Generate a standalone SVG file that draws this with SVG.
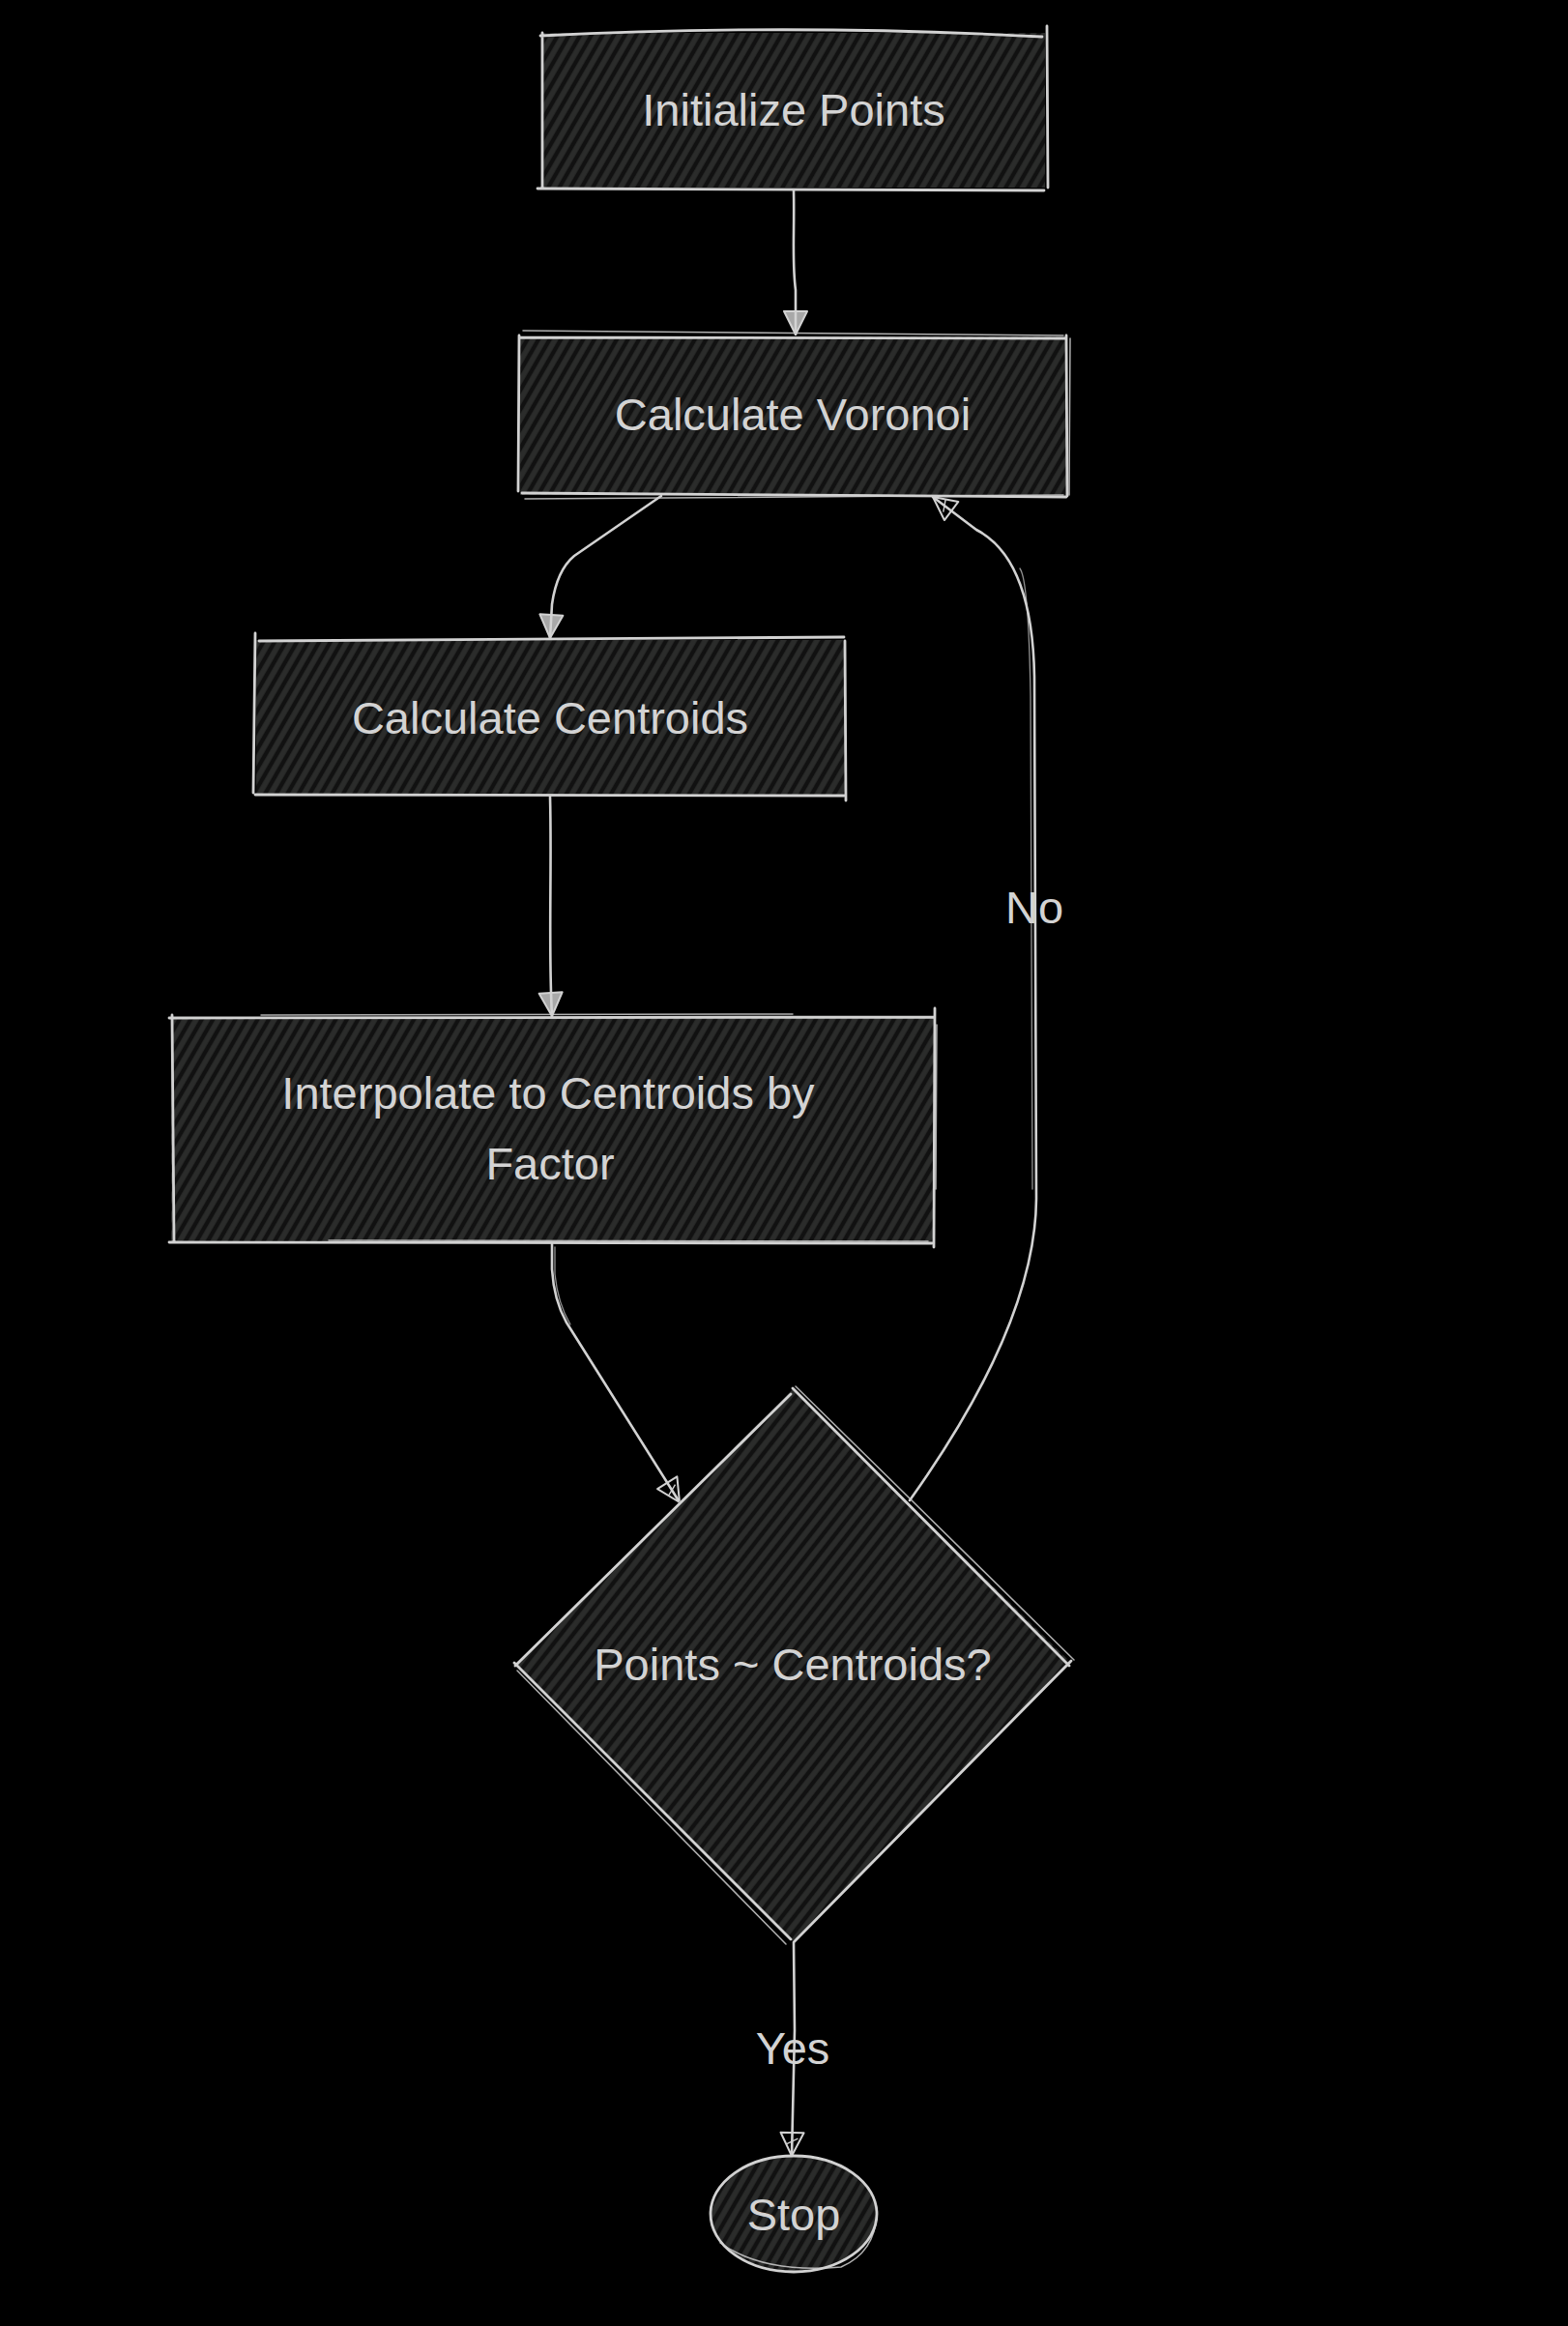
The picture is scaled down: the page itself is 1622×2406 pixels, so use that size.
<svg xmlns="http://www.w3.org/2000/svg" width="1622" height="2406" viewBox="0 0 1622 2406">
<style>
.bg{fill:#000}
.fillh{fill:url(#hach)}
.fillhd{fill:url(#hachd)}
.bd{fill:none;stroke:#d2d2d2;stroke-width:2.8;stroke-linecap:round;stroke-linejoin:round}
.bd2{fill:none;stroke:#cfcfcf;stroke-width:1.5;stroke-linecap:round;opacity:0.85}
.edge{fill:none;stroke:#d2d2d2;stroke-width:2.6;stroke-linecap:round;stroke-linejoin:round}
.edge2{fill:none;stroke:#cfcfcf;stroke-width:1.3;stroke-linecap:round;opacity:0.7}
.lbl{font-family:"Liberation Sans",Arial,sans-serif;font-size:47px;fill:#d3d3d3;text-anchor:middle}
</style>
<defs>
<pattern id="hach" patternUnits="userSpaceOnUse" width="10" height="10" patternTransform="rotate(30)">
<rect width="10" height="10" fill="#111111"/>
<line x1="3" y1="0" x2="3" y2="10" stroke="#2b2c2b" stroke-width="5.5"/>
</pattern>
<pattern id="hachd" patternUnits="userSpaceOnUse" width="10" height="10" patternTransform="rotate(38)">
<rect width="10" height="10" fill="#111111"/>
<line x1="3" y1="0" x2="3" y2="10" stroke="#2b2c2b" stroke-width="5.5"/>
</pattern>
<marker id="arr" markerUnits="userSpaceOnUse" markerWidth="30" markerHeight="30" viewBox="0 0 30 30" refX="26" refY="15" orient="auto">
<path d="M2,3 L26,15 L2,27 Z" fill="#d2d2d2" fill-opacity="0.8" stroke="#d2d2d2" stroke-width="2" stroke-linejoin="round"/>
</marker>
<marker id="arrh" markerUnits="userSpaceOnUse" markerWidth="30" markerHeight="30" viewBox="0 0 30 30" refX="26" refY="15" orient="auto">
<path d="M2,3 L26,15 L2,27 Z" fill="none" stroke="#d2d2d2" stroke-width="2" stroke-linejoin="round"/>
<path d="M8,9 L14,21" stroke="#d2d2d2" stroke-width="1.4" fill="none"/>
</marker>
</defs>
<rect class="bg" x="0" y="0" width="1622" height="2406"/>

<g id="connectors">
<g id="e-init-voronoi">
<path class="edge" d="M821,197 C822,240 819,270 823,300 L823,346" marker-end="url(#arr)"/>
</g>
<g id="e-voronoi-centroids">
<path class="edge" d="M684,513 L594,575 Q576,590 571,625 L569,660" marker-end="url(#arr)"/>
</g>
<g id="e-centroids-interp">
<path class="edge" d="M569,824 C571,900 567,980 571,1051" marker-end="url(#arr)"/>
</g>
<g id="e-interp-decision">
<path class="edge" d="M571,1287 L571,1313 Q573,1345 586,1368 L703,1554" marker-end="url(#arrh)"/>
<path class="edge2" d="M574,1290 L574,1318 Q577,1348 590,1370"/>
</g>
<g id="e-decision-voronoi">
<path class="edge" d="M941,1552 Q1071,1370 1072,1240 L1070,700 Q1068,578 1010,548 L965,514" marker-end="url(#arrh)"/>
<path class="edge2" d="M1068,1230 L1066,720 Q1064,600 1055,588"/>
<text class="lbl" x="1070" y="955">No</text>
</g>
<g id="e-decision-stop">
<path class="edge" d="M821,2009 L822,2100 L819,2230" marker-end="url(#arrh)"/>
<text class="lbl" x="820" y="2135">Yes</text>
</g>
</g>

<g id="n-init">
<rect class="fillh" x="561" y="34" width="520" height="160"/>
<path class="bd" d="M559,37 Q820,24 1078,38 M561,34 L561,195 M556,195 L1080,197 M1083,27 L1084,194"/>
<text class="lbl" x="821" y="130">Initialize Points</text>
</g>

<g id="n-voronoi">
<rect class="fillh" x="538" y="348" width="565" height="164"/>
<path class="bd" d="M538,349 L1103,350 M537,347 L536,508 M540,510 L1103,514 M1103,347 L1104,513"/>
<path class="bd2" d="M541,342 L1100,347 M543,516 L1100,512 M1107,350 L1106,512"/>
<text class="lbl" x="820" y="445">Calculate Voronoi</text>
</g>

<g id="n-centroids">
<rect class="fillh" x="265" y="662" width="609" height="160"/>
<path class="bd" d="M268,663 L873,659 M264,655 L262,820 M264,822 L873,823 M874,663 L875,828"/>
<text class="lbl" x="569" y="759">Calculate Centroids</text>
</g>

<g id="n-interp">
<rect class="fillh" x="177" y="1052" width="790" height="233"/>
<path class="bd" d="M175,1053 L966,1052 M178,1050 L180,1284 M175,1285 L964,1286 M967,1043 L966,1290"/>
<path class="bd2" d="M270,1050 L820,1049 M340,1283 L960,1284 M969,1060 L968,1230"/>
<text class="lbl" x="567" y="1147">Interpolate to Centroids by</text>
<text class="lbl" x="569" y="1220">Factor</text>
</g>

<g id="n-decision">
<path class="fillhd" d="M820,1437 L1108,1720 L820,2008 L533,1722 Z"/>
<path class="bd" d="M820,1436 L1106,1723 M1108,1718 L822,2008 M818,2006 L532,1720 M533,1723 L818,1442"/>
<path class="bd2" d="M823,1434 L1111,1717 M535,1728 L813,2011"/>
<text class="lbl" x="820" y="1738">Points ~ Centroids?</text>
</g>

<g id="n-stop">
<ellipse class="fillh" cx="821" cy="2290" rx="85" ry="59"/>
<ellipse class="bd" cx="821" cy="2290" rx="86" ry="60"/>
<path class="bd2" d="M745,2320 Q790,2352 870,2345 Q905,2330 907,2290"/>
<text class="lbl" x="821" y="2307">Stop</text>
</g>
</svg>
